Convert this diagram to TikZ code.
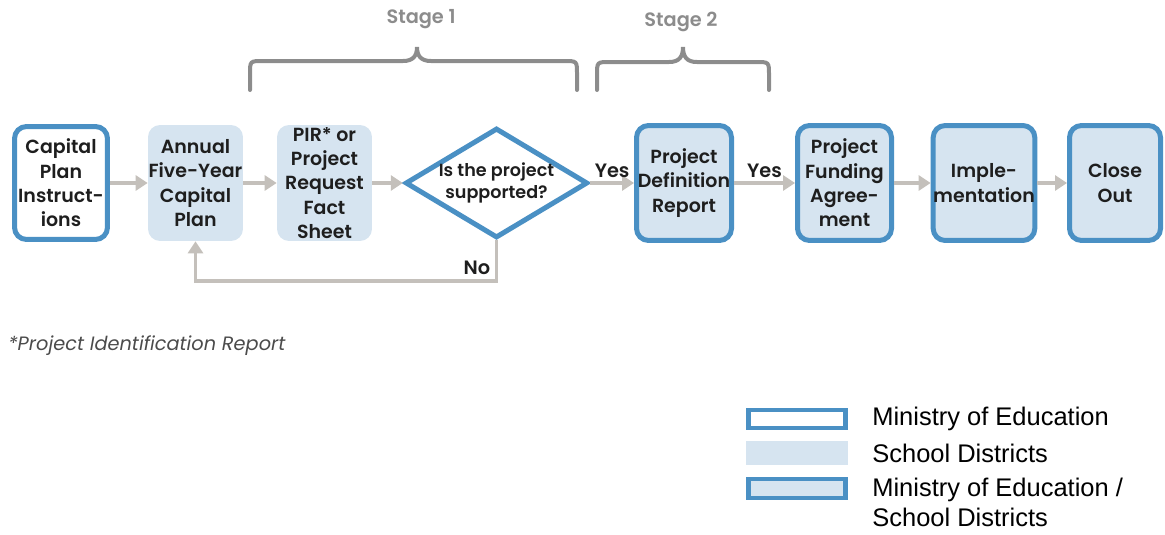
\documentclass[tikz,border=0pt]{standalone}
\usepackage{fontspec}
\setmainfont{Poppins}[BoldFont={Poppins SemiBold}]
\newfontfamily\legendfont{Liberation Sans}
\usetikzlibrary{shapes.geometric,arrows.meta}
\definecolor{mblue}{RGB}{74,144,196}
\definecolor{mfill}{RGB}{214,228,240}
\definecolor{arrowgray}{RGB}{196,192,187}
\definecolor{bracegray}{RGB}{140,140,140}
\definecolor{txt}{RGB}{30,30,30}
\tikzset{
  boxtext/.style={font=\bfseries\fontsize{10.8}{13.9}\selectfont, text=txt, align=center, inner sep=0pt},
  ministry/.style={boxtext, draw=mblue, line width=0.1cm, fill=white, rounded corners=0.24cm},
  district/.style={boxtext, fill=mfill, rounded corners=0.24cm},
  joint/.style={boxtext, draw=mblue, line width=0.1cm, fill=mfill, rounded corners=0.24cm},
  flow/.style={draw=arrowgray, line width=0.07cm, -{Triangle[length=0.24cm,width=0.3cm]}},
  bracepath/.style={draw=bracegray, line width=0.08cm, line cap=round},
  stagelbl/.style={font=\bfseries\fontsize{11}{13}\selectfont, text=bracegray},
  flowlbl/.style={font=\bfseries\fontsize{11}{13}\selectfont, text=txt, inner sep=1pt},
  legtext/.style={font=\legendfont\fontsize{14.5}{17}\selectfont, text=black, anchor=west, inner sep=0pt, align=left}
}
\begin{document}
\begin{tikzpicture}[x=0.02cm,y=-0.02cm]
\useasboundingbox (0,0) rectangle (1165,534);
% boxes
\node[ministry, minimum width=1.86cm, minimum height=2.26cm] (cpi) at (61,183) {Capital\\Plan\\Instruct-\\ions};
\node[district, minimum width=1.9cm, minimum height=2.32cm] (afy) at (195.5,183) {Annual\\Five-Year\\Capital\\Plan};
\node[district, minimum width=1.9cm, minimum height=2.32cm] (pir) at (324.5,183) {PIR* or\\Project\\Request\\Fact\\Sheet};
\node[diamond, draw=mblue, line width=0.1cm, fill=white, minimum width=3.46cm, minimum height=2.1cm, inner sep=0pt, aspect=1.66,
      font=\bfseries\fontsize{10}{12.5}\selectfont, text=txt, align=center] (dia) at (496.5,183) {Is the project\\supported?};
\node[joint, minimum width=1.9cm, minimum height=2.3cm] (pdr) at (684,183) {Project\\Definition\\Report};
\node[joint, minimum width=1.88cm, minimum height=2.3cm] (pfa) at (844.5,183) {Project\\Funding\\Agree-\\ment};
\node[joint, minimum width=1.86cm, minimum height=2.3cm] (imp) at (984,183) {Imple-\\mentation};
\node[joint, minimum width=1.82cm, minimum height=2.3cm] (clo) at (1115,183) {Close\\Out};
% arrows
\draw[flow] (cpi.east) -- (afy.west);
\draw[flow] (afy.east) -- (pir.west);
\draw[flow] (pir.east) -- (dia.west);
\draw[flow] (dia.east) -- node[flowlbl, above=1pt] (yes1) {Yes} (pdr.west);
\draw[flow] (pdr.east) -- node[flowlbl, above=1pt] (yes2) {Yes} (pfa.west);
\draw[flow] (pfa.east) -- (imp.west);
\draw[flow] (imp.east) -- (clo.west);
\coordinate (nocorner) at (195.5,281);
\draw[flow] (dia.south) |- (nocorner) -- (afy.south);
\node[flowlbl, fill=white, inner sep=2pt] (nolbl) at (477,268) {No};
% braces
\draw[bracepath] (250,90) -- (250,74) .. controls (250,61) .. (263,61) -- (403,61)
  .. controls (413,61) and (417,56) .. (417,47) .. controls (417,56) and (421,61) .. (431,61)
  -- (564,61) .. controls (577,61) .. (577,74) -- (577,90);
\draw[bracepath] (597,90) -- (597,75) .. controls (597,62) .. (610,62) -- (669,62)
  .. controls (679,62) and (683,57) .. (683,47) .. controls (683,57) and (687,62) .. (697,62)
  -- (756,62) .. controls (769,62) .. (769,75) -- (769,90);
\node[stagelbl] (st1) at (421,19) {Stage 1};
\node[stagelbl] (st2) at (681,22) {Stage 2};
% footnote
\node[font=\itshape\fontsize{11}{13}\selectfont, text=txt!80, anchor=west, inner sep=0pt] (fn) at (8,346) {*Project Identification Report};
% legend
\draw[draw=mblue, line width=0.09cm, fill=white] (748.5,410) rectangle (845.5,428);
\fill[mfill] (746,441) rectangle (848,465);
\draw[draw=mblue, line width=0.09cm, fill=mfill] (748.5,479) rectangle (845.5,498);
\node[legtext] (l1) at (872,419) {Ministry of Education};
\node[legtext] (l2) at (872,453) {School Districts};
\node[legtext, anchor=north west] (l3) at (872,478) {Ministry of Education /\\School Districts};
\end{tikzpicture}
\end{document}
